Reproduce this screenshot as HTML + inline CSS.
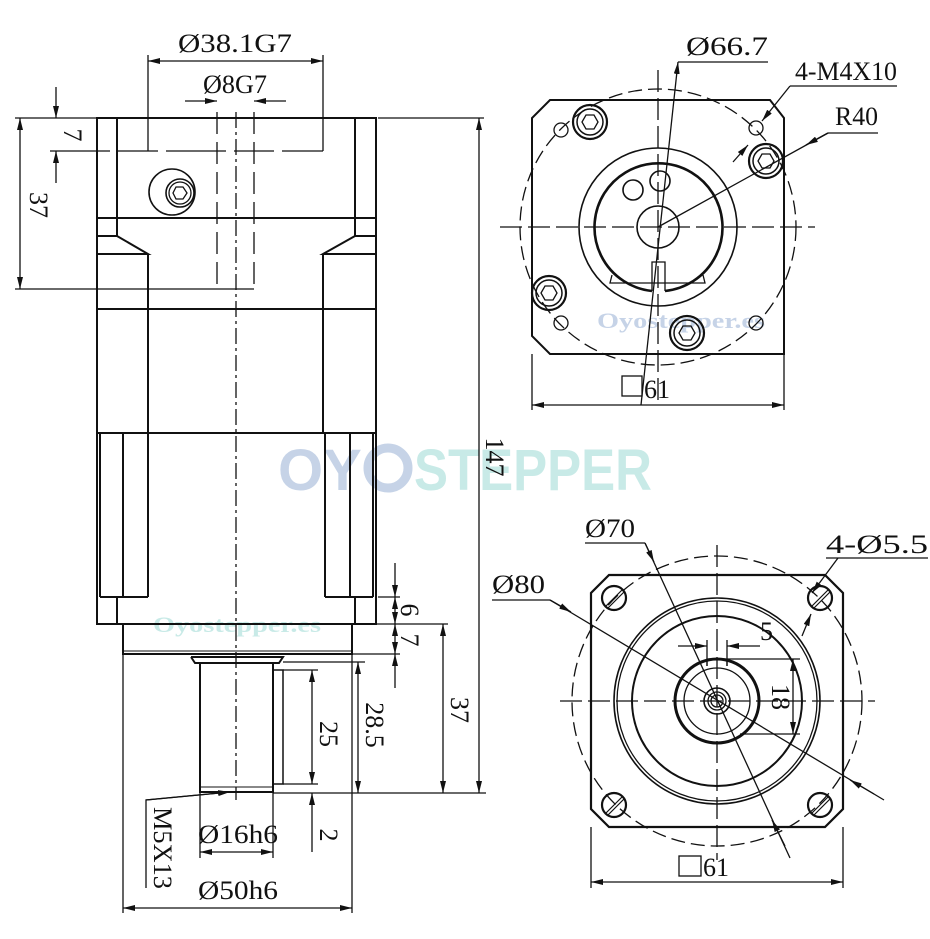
<!DOCTYPE html>
<html><head><meta charset="utf-8"><style>
html,body{margin:0;padding:0;background:#fff;}
svg{display:block}
text{font-family:"Liberation Serif",serif;fill:#111;}
</style></head><body>
<svg width="930" height="939" viewBox="0 0 930 939" xmlns="http://www.w3.org/2000/svg">
<defs>
<marker id="a" viewBox="0 0 12 6" refX="12" refY="3" markerWidth="12" markerHeight="6" markerUnits="userSpaceOnUse" orient="auto-start-reverse"><path d="M0,0L12,3L0,6z" fill="#111"/></marker>
<g id="bolt"><circle r="17" fill="none" stroke="#111" stroke-width="2.2"/><circle r="13" fill="none" stroke="#111" stroke-width="1.5"/><polygon points="8,0 4,7 -4,7 -8,0 -4,-7 4,-7" fill="none" stroke="#111" stroke-width="1.3"/></g>
<g id="hole"><circle r="12" fill="none" stroke="#111" stroke-width="2.2"/><line x1="-8" y1="8" x2="8" y2="-8" stroke="#111" stroke-width="1.2"/><line x1="-6" y1="10" x2="10" y2="-6" stroke="#111" stroke-width="1.2"/></g>
</defs>

<g opacity="0.75">
<text x="278" y="490" style="font-family:'Liberation Sans',sans-serif;font-weight:bold;font-size:58px;fill:#b3c5e0">OY</text>
<circle cx="388" cy="468" r="20" fill="none" stroke="#b3c5e0" stroke-width="9"/>
<text x="414" y="490" style="font-family:'Liberation Sans',sans-serif;font-weight:bold;font-size:58px;fill:#b6e3df" textLength="238" lengthAdjust="spacingAndGlyphs">STEPPER</text>
<text x="153" y="632" style="font-weight:bold;font-size:22px;fill:#b6e3df" textLength="168" lengthAdjust="spacingAndGlyphs">Oyostepper.es</text>
<text x="597" y="328" style="font-weight:bold;font-size:22px;fill:#b3c5e0" textLength="168" lengthAdjust="spacingAndGlyphs">Oyostepper.es</text>
</g>

<g fill="none" stroke="#111" stroke-width="1.3">
<g stroke-width="2">
<rect x="97" y="118" width="279" height="506"/>
<line x1="117" y1="118" x2="117" y2="218"/><line x1="355" y1="118" x2="355" y2="218"/>
<line x1="97" y1="218" x2="376" y2="218"/>
<polyline points="117,218 117,236 97,236"/><polyline points="117,236 148,254 97,254"/>
<polyline points="355,218 355,236 376,236"/><polyline points="355,236 323,254 376,254"/>
<line x1="148" y1="254" x2="148" y2="433"/><line x1="323" y1="254" x2="323" y2="433"/>
<line x1="97" y1="309" x2="376" y2="309"/>
<line x1="97" y1="433" x2="376" y2="433"/>
<line x1="100" y1="433" x2="100" y2="597"/><line x1="123" y1="433" x2="123" y2="597"/><line x1="148" y1="433" x2="148" y2="597"/>
<line x1="373" y1="433" x2="373" y2="597"/><line x1="350" y1="433" x2="350" y2="597"/><line x1="325" y1="433" x2="325" y2="597"/>
<line x1="100" y1="597" x2="148" y2="597"/><line x1="325" y1="597" x2="373" y2="597"/>
<line x1="117" y1="597" x2="117" y2="624"/><line x1="355" y1="597" x2="355" y2="624"/>
<polyline points="123,624 123,654 352,654 352,624"/>
<line x1="123" y1="651" x2="352" y2="651" stroke-width="1"/>
<polyline points="191,657 195,663 279,663 283,657 191,657"/>
<rect x="200" y="663" width="73" height="129"/>
<line x1="200" y1="787" x2="273" y2="787" stroke-width="1"/>
<rect x="273" y="670" width="10" height="114" stroke-width="1.5"/>
</g>
<circle cx="172" cy="192" r="23" stroke-width="1.6"/>
<circle cx="180" cy="193" r="14" stroke-width="1.6"/>
<circle cx="180" cy="193" r="11"/>
<polygon points="187,193 183,199 176,199 173,193 176,187 183,187"/>
<line x1="236" y1="112" x2="236" y2="800" stroke-dasharray="16,4,3,4"/>
<line x1="217" y1="112" x2="217" y2="289" stroke-dasharray="22,8"/><line x1="254" y1="112" x2="254" y2="289" stroke-dasharray="22,8"/>
<line x1="217" y1="289" x2="254" y2="289"/>
<line x1="50" y1="151" x2="323" y2="151" stroke-dasharray="60,8,40,8"/>
<line x1="148" y1="55" x2="148" y2="151"/><line x1="323" y1="55" x2="323" y2="151"/>
<line x1="148" y1="61" x2="323" y2="61" marker-start="url(#a)" marker-end="url(#a)"/>
<line x1="185" y1="101" x2="217" y2="101" marker-end="url(#a)"/><line x1="286" y1="101" x2="254" y2="101" marker-end="url(#a)"/>
<line x1="15" y1="118" x2="97" y2="118"/>
<line x1="56" y1="87" x2="56" y2="118" marker-end="url(#a)"/><line x1="56" y1="183" x2="56" y2="151" marker-end="url(#a)"/>
<line x1="20" y1="118" x2="20" y2="289" marker-start="url(#a)" marker-end="url(#a)"/>
<line x1="15" y1="289" x2="217" y2="289"/>
<line x1="378" y1="118" x2="484" y2="118"/>
<line x1="479" y1="118" x2="479" y2="793" marker-start="url(#a)" marker-end="url(#a)"/>
<line x1="273" y1="793" x2="486" y2="793"/>
<line x1="378" y1="597" x2="400" y2="597"/><line x1="355" y1="624" x2="448" y2="624"/><line x1="352" y1="654" x2="400" y2="654"/>
<line x1="395" y1="563" x2="395" y2="597" marker-end="url(#a)"/><line x1="395" y1="597" x2="395" y2="624" marker-start="url(#a)" marker-end="url(#a)"/>
<line x1="395" y1="624" x2="395" y2="654" marker-start="url(#a)" marker-end="url(#a)"/><line x1="395" y1="688" x2="395" y2="654" marker-end="url(#a)"/>
<line x1="443" y1="624" x2="443" y2="793" marker-start="url(#a)" marker-end="url(#a)"/>
<line x1="283" y1="662" x2="365" y2="662"/>
<line x1="358" y1="662" x2="358" y2="793" marker-start="url(#a)" marker-end="url(#a)"/>
<line x1="283" y1="670" x2="318" y2="670"/><line x1="283" y1="784" x2="318" y2="784"/>
<line x1="312" y1="670" x2="312" y2="784" marker-start="url(#a)" marker-end="url(#a)"/>
<line x1="312" y1="852" x2="312" y2="793" marker-end="url(#a)"/>
<polyline points="146,888 146,800 230,792"/><line x1="146" y1="800" x2="230" y2="792" marker-end="url(#a)"/>
<line x1="200" y1="792" x2="200" y2="858"/><line x1="273" y1="793" x2="273" y2="858"/>
<line x1="200" y1="852" x2="273" y2="852" marker-start="url(#a)" marker-end="url(#a)"/>
<line x1="123" y1="654" x2="123" y2="913"/><line x1="352" y1="654" x2="352" y2="913"/>
<line x1="123" y1="908" x2="352" y2="908" marker-start="url(#a)" marker-end="url(#a)"/>

<polygon points="550,100 770,100 784,118 784,354 770,354 550,354 532,336 532,118" stroke-width="2"/>
<circle cx="658" cy="227" r="138" stroke-dasharray="14,6"/>
<circle cx="658" cy="227" r="79" stroke-width="1.6"/>
<path d="M652,291 A64,64 0 1 1 665,291" stroke-width="2.6"/>
<polyline points="652,291 652,262 665,262 665,291"/>
<polyline points="612,275 610,283 705,283 703,275"/>
<circle cx="658" cy="227" r="21" stroke-width="1.6"/>
<circle cx="660" cy="181" r="10" stroke-width="1.6"/><circle cx="633" cy="190" r="10" stroke-width="1.6"/>
<use href="#bolt" x="590" y="122"/><use href="#bolt" x="766" y="161"/><use href="#bolt" x="549" y="293"/><use href="#bolt" x="687" y="333"/>
<circle cx="561" cy="130" r="7"/><circle cx="756" cy="128" r="7"/><circle cx="561" cy="323" r="7"/><circle cx="756" cy="323" r="7"/>
<line x1="500" y1="227" x2="815" y2="227" stroke-dasharray="22,6"/>
<line x1="658" y1="70" x2="658" y2="405" stroke-dasharray="22,6"/>
<line x1="678" y1="62" x2="768" y2="62"/>
<line x1="641" y1="405" x2="678" y2="62" marker-end="url(#a)"/>
<line x1="790" y1="86" x2="897" y2="86"/>
<line x1="790" y1="86" x2="762" y2="121" marker-end="url(#a)"/>
<line x1="733" y1="162" x2="748" y2="145" marker-end="url(#a)"/>
<line x1="828" y1="133" x2="878" y2="133"/>
<line x1="658" y1="227" x2="828" y2="133"/>
<line x1="828" y1="133" x2="806" y2="145" marker-end="url(#a)"/>
<line x1="532" y1="354" x2="532" y2="410"/><line x1="784" y1="354" x2="784" y2="410"/>
<line x1="532" y1="405" x2="784" y2="405" marker-start="url(#a)" marker-end="url(#a)"/>
<rect x="622" y="376" width="20" height="20"/>

<polygon points="609,575 825,575 843,593 843,809 825,827 609,827 591,809 591,593" stroke-width="2.2"/>
<circle cx="717" cy="701" r="145" stroke-dasharray="14,6"/>
<circle cx="717" cy="701" r="103" stroke-width="1.6"/><circle cx="717" cy="701" r="100" stroke-width="1.3"/>
<circle cx="717" cy="701" r="85" stroke-width="2"/>
<circle cx="717" cy="701" r="42" stroke-width="3"/>
<circle cx="717" cy="701" r="33" stroke-width="1.3"/>
<circle cx="717" cy="701" r="13" stroke-width="1.6"/><circle cx="717" cy="701" r="9"/><circle cx="717" cy="701" r="6"/>
<polyline points="707,666 707,659 727,659 727,666"/>
<use href="#hole" x="614" y="598"/><use href="#hole" x="820" y="598"/><use href="#hole" x="614" y="805"/><use href="#hole" x="820" y="805"/>
<line x1="560" y1="701" x2="875" y2="701" stroke-dasharray="22,6"/>
<line x1="717" y1="545" x2="717" y2="860" stroke-dasharray="22,6"/>
<line x1="707" y1="640" x2="707" y2="666"/><line x1="727" y1="640" x2="727" y2="666"/>
<line x1="678" y1="646" x2="707" y2="646" marker-end="url(#a)"/><line x1="760" y1="646" x2="727" y2="646" marker-end="url(#a)"/>
<line x1="727" y1="659" x2="800" y2="659"/><line x1="740" y1="734" x2="800" y2="734"/>
<line x1="793" y1="659" x2="793" y2="734" marker-start="url(#a)" marker-end="url(#a)"/>
<line x1="585" y1="543" x2="645" y2="543"/>
<line x1="645" y1="543" x2="790" y2="858"/><line x1="645" y1="543" x2="654" y2="562" marker-end="url(#a)"/>
<line x1="772" y1="820" x2="785" y2="846" marker-start="url(#a)"/>
<line x1="492" y1="600" x2="550" y2="600"/>
<line x1="550" y1="600" x2="884" y2="800"/><line x1="550" y1="600" x2="571" y2="612" marker-end="url(#a)"/>
<line x1="850" y1="780" x2="874" y2="794" marker-start="url(#a)"/>
<line x1="826" y1="558" x2="928" y2="558"/>
<line x1="838" y1="558" x2="812" y2="593" marker-end="url(#a)"/>
<line x1="802" y1="636" x2="811" y2="614" marker-end="url(#a)"/>
<line x1="591" y1="827" x2="591" y2="888"/><line x1="843" y1="827" x2="843" y2="888"/>
<line x1="591" y1="882" x2="843" y2="882" marker-start="url(#a)" marker-end="url(#a)"/>
<rect x="679" y="856" width="22" height="20"/>
</g>

<g style="font-size:26px">
<text x="178" y="52" textLength="114" lengthAdjust="spacingAndGlyphs">Ø38.1G7</text>
<text x="203" y="93" textLength="64" lengthAdjust="spacingAndGlyphs">Ø8G7</text>
<text transform="translate(64,135) rotate(90)" text-anchor="middle">7</text>
<text transform="translate(30,205) rotate(90)" text-anchor="middle">37</text>
<text transform="translate(486,457) rotate(90)" text-anchor="middle">147</text>
<text transform="translate(401,610) rotate(90)" text-anchor="middle">6</text>
<text transform="translate(401,640) rotate(90)" text-anchor="middle">7</text>
<text transform="translate(451,710) rotate(90)" text-anchor="middle">37</text>
<text transform="translate(366,725) rotate(90)" text-anchor="middle">28.5</text>
<text transform="translate(320,734) rotate(90)" text-anchor="middle">25</text>
<text transform="translate(320,835) rotate(90)" text-anchor="middle">2</text>
<text transform="translate(154,848) rotate(90)" text-anchor="middle" textLength="82" lengthAdjust="spacingAndGlyphs">M5X13</text>
<text x="198" y="843" textLength="80" lengthAdjust="spacingAndGlyphs">Ø16h6</text>
<text x="198" y="899" textLength="80" lengthAdjust="spacingAndGlyphs">Ø50h6</text>
<text x="686" y="55" textLength="82" lengthAdjust="spacingAndGlyphs">Ø66.7</text>
<text x="795" y="80" textLength="102" lengthAdjust="spacingAndGlyphs">4-M4X10</text>
<text x="835" y="125" textLength="43" lengthAdjust="spacingAndGlyphs">R40</text>
<text x="644" y="398">61</text>
<text x="585" y="537" textLength="50" lengthAdjust="spacingAndGlyphs">Ø70</text>
<text x="492" y="593" textLength="53" lengthAdjust="spacingAndGlyphs">Ø80</text>
<text x="826" y="553" textLength="102" lengthAdjust="spacingAndGlyphs">4-Ø5.5</text>
<text x="760" y="640">5</text>
<text transform="translate(772,697) rotate(90)" text-anchor="middle">18</text>
<text x="703" y="876">61</text>
</g>
</svg>
</body></html>
